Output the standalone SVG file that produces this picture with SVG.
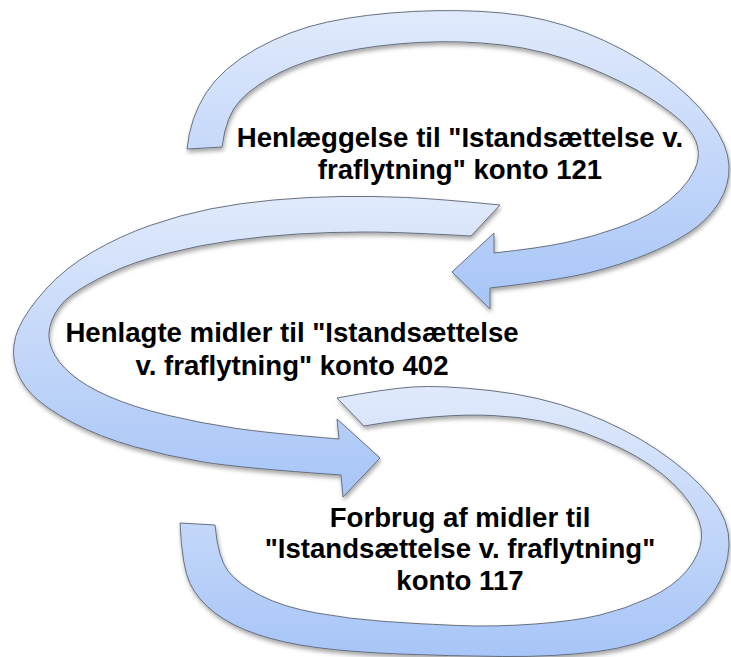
<svg xmlns="http://www.w3.org/2000/svg" width="731" height="657" viewBox="0 0 731 657">
<defs>
<linearGradient id="g" x1="0" y1="0" x2="0" y2="1">
<stop offset="0" stop-color="#e1eafc"/>
<stop offset="1" stop-color="#a7c5f7"/>
</linearGradient>
<filter id="sh" x="-10%" y="-10%" width="120%" height="130%">
<feDropShadow dx="1" dy="3" stdDeviation="2" flood-color="#000" flood-opacity="0.35"/>
</filter>
<style>
.arr{fill:url(#g);stroke:#5b6473;stroke-width:0.9;stroke-linejoin:miter;filter:url(#sh)}
.t{font-family:"Liberation Sans",Arial,sans-serif;font-weight:bold;font-size:27.6px;fill:#000;text-anchor:middle}
</style>
</defs>
<rect width="731" height="657" fill="#fff"/>
<g id="connectors">
<path id="arrow1" class="arr" d="M187,149 Q190,118 206,93 Q222,68 256,49 Q290,30 327.5,22 Q365,14 412.5,11.5 Q460,9 502.5,13 Q545,17 585,32.5 Q625,48 658.5,72 Q692,96 710,120.5 Q728,145 729,165 Q730,185 719,202.5 Q708,220 689,232.5 Q670,245 645,255 Q620,265 590,272.5 Q560,280 490,288 L490,309 L452,272 L494,233 L494,253 Q540,248 566,242.5 Q592,237 616,228.5 Q640,220 655,210.5 Q670,201 680,190.5 Q690,180 695,169 Q700,158 697.5,146.5 Q695,135 684,124 Q673,113 649,97.5 Q625,82 585,66 Q545,50 502.5,45 Q460,40 417.5,42.5 Q375,45 340,52.5 Q305,60 280,72.5 Q255,85 240.5,100 Q226,115 222,147 Z"/>
<path id="arrow2" class="arr" d="M500,205 Q440,199 406.5,197.5 Q373,196 340,196.5 Q307,197 273.5,200 Q240,203 210,209 Q180,215 150,225.5 Q120,236 92.5,252 Q65,268 46,289 Q27,310 19,327.5 Q11,345 14.5,362.5 Q18,380 31.5,394 Q45,408 72.5,422.5 Q100,437 133.5,446.5 Q167,456 203.5,462 Q240,468 341,475 L343,497 L380,458 L337,419 L339,439 Q267,433 233.5,428 Q200,423 166.5,415 Q133,407 109,396.5 Q85,386 71,374 Q57,362 51.5,348.5 Q46,335 52,320 Q58,305 71.5,295 Q85,285 109,273.5 Q133,262 166.5,253.5 Q200,245 232.5,240.5 Q265,236 297.5,234 Q330,232 365,232 Q400,232 471,236 Z"/>
<path id="arrow3" class="arr" d="M337,398 Q385,389 412.5,387 Q440,385 490,390.5 Q540,396 582.5,412 Q625,428 657.5,450 Q690,472 710,496 Q730,520 729,545 Q728,570 714,591.5 Q700,613 670,629.5 Q640,646 597.5,651.5 Q555,657 502.5,656.5 Q450,656 400,654 Q350,652 316.5,647.5 Q283,643 257.5,634.5 Q232,626 215,613 Q198,600 190,583.5 Q182,567 180,523 L215,525 Q218,558 228,571 Q238,584 260.5,595.5 Q283,607 316.5,613 Q350,619 385,621.5 Q420,624 457.5,625.5 Q495,627 535,624 Q575,621 600,615 Q625,609 649,598 Q673,587 686.5,571 Q700,555 701.5,538.5 Q703,522 689,502 Q675,482 650,465 Q625,448 585,433 Q545,418 492.5,415.5 Q440,413 364,426 Z"/>
</g>
<g id="node1">
<text class="t" x="460" y="146.5">Henlæggelse til "Istandsættelse v.</text>
<text class="t" x="460" y="178.5">fraflytning" konto 121</text>
</g>
<g id="node2">
<text class="t" x="292" y="341.5">Henlagte midler til "Istandsættelse</text>
<text class="t" x="292" y="374.5">v. fraflytning" konto 402</text>
</g>
<g id="node3">
<text class="t" x="460" y="526.5">Forbrug af midler til</text>
<text class="t" x="460" y="558">"Istandsættelse v. fraflytning"</text>
<text class="t" x="460" y="590">konto 117</text>
</g>
</svg>
